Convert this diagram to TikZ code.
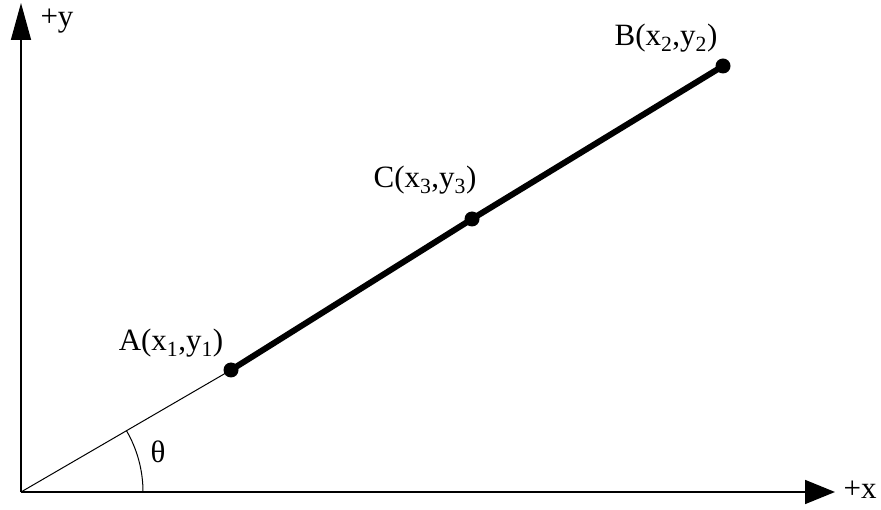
\documentclass[tikz,border=0pt]{standalone}
\usepackage{fontspec}
\setmainfont{Liberation Serif}
\usetikzlibrary{arrows.meta}
\begin{document}
\begin{tikzpicture}[x=1pt,y=-1pt,
  dot/.style={circle,fill=black,inner sep=0pt,minimum size=15pt},
  lbl/.style={inner sep=0pt,font=\fontsize{31}{34}\selectfont},
  axis/.style={line width=1.6pt},
  seg/.style={line width=6pt}]
\useasboundingbox (0,0) rectangle (881,510);
\coordinate (O) at (21,492);
\coordinate (Ytip) at (21,3);
\coordinate (Xtip) at (835,492);
\draw[axis,-{Triangle[length=37pt,width=20pt]}] (O) -- (Ytip);
\draw[axis,-{Triangle[length=30pt,width=24pt]}] (O) -- (Xtip);
\node[dot] (A) at (231,370) {};
\node[dot] (C) at (472,219) {};
\node[dot] (B) at (723,66) {};
\draw[line width=1pt] (O) -- (A.center);
\draw[seg] (A.center) -- (C.center) -- (B.center);
\draw[line width=1pt] (143,492) arc[start angle=0,end angle=-30.2,radius=122];
\node[lbl] (ly) at (57,21) {+y};
\node[lbl] (lx) at (860,490) {+x};
\node[lbl] (la) at (171,343) {A(x\textsubscript{1},y\textsubscript{1})};
\node[lbl] (lc) at (425,180) {C(x\textsubscript{3},y\textsubscript{3})};
\node[lbl] (lb) at (666,38) {B(x\textsubscript{2},y\textsubscript{2})};
\node[lbl] (th) at (158,452) {θ};
\end{tikzpicture}
\end{document}
